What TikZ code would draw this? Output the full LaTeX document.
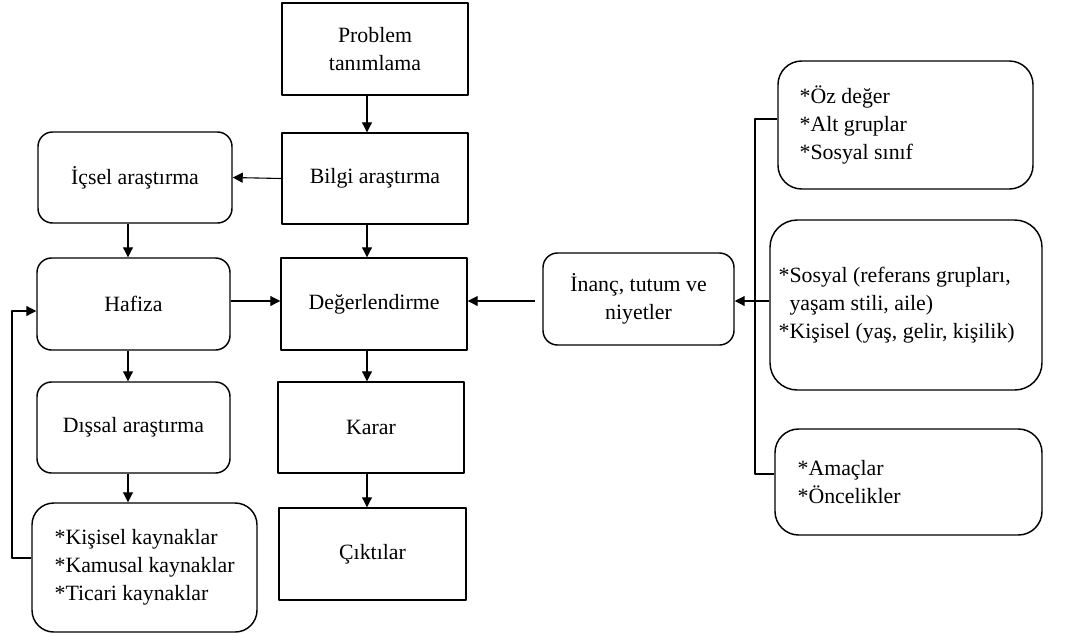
\documentclass[tikz,border=0pt]{standalone}
\usepackage{fontspec}
\setmainfont{Liberation Serif}
\usetikzlibrary{arrows.meta,positioning}
\tikzset{
  box/.style={draw, line width=0.8pt, align=center, inner sep=2pt},
  rbox/.style={box, rounded corners=8pt},
  bigbox/.style={box, rounded corners=13pt},
  lst/.style={align=left, inner sep=0pt},
  conn/.style={line width=0.6pt},
}
\begin{document}
\begin{tikzpicture}[x=0.55pt, y=-0.55pt, font=\fontsize{12}{15.5}\selectfont, line join=round, >={Triangle[length=5.5pt,width=5.5pt]}]
 \useasboundingbox (0,0) rectangle (1086,635);
 % middle column
 \node[box, minimum width=186*0.55pt, minimum height=92*0.55pt] (prob) at (375,49) {Problem\\tanımlama};
 \node[box, minimum width=186*0.55pt, minimum height=91*0.55pt] (bil) at (375,178.5) {Bilgi araştırma};
 \node[box, minimum width=186*0.55pt, minimum height=92*0.55pt] (deg) at (374,304) {Değerlendirme};
 \node[box, minimum width=186*0.55pt, minimum height=91*0.55pt] (kar) at (371,427.5) {Karar};
 \node[box, minimum width=187*0.55pt, minimum height=92*0.55pt] (cik) at (372.5,554) {Çıktılar};
 % left column
 \node[rbox, minimum width=194*0.55pt, minimum height=91*0.55pt] (ics) at (135,177.5) {İçsel araştırma};
 \node[rbox, minimum width=193*0.55pt, minimum height=92*0.55pt] (haf) at (133.5,304) {Hafiza};
 \node[rbox, minimum width=193*0.55pt, minimum height=91*0.55pt] (dis) at (133.5,427.5) {Dışsal araştırma};
 \node[rbox, rounded corners=12pt, minimum width=225*0.55pt, minimum height=129*0.55pt] (kay) at (144.5,567.5) {};
 \node[lst, right=12.65pt of kay.west] (kayT) {*Kişisel kaynaklar\\*Kamusal kaynaklar\\*Ticari kaynaklar};
 % right side
 \node[rbox, minimum width=191*0.55pt, minimum height=92*0.55pt] (inc) at (638.5,299) {İnanç, tutum ve\\niyetler};
 \node[bigbox, minimum width=255*0.55pt, minimum height=128*0.55pt] (oz) at (905.5,125) {};
 \node[lst, right=12.1pt of oz.west] (ozT) {*Öz değer\\*Alt gruplar\\*Sosyal sınıf};
 \node[bigbox, rounded corners=15pt, minimum width=272*0.55pt, minimum height=170*0.55pt] (soc) at (906,305) {};
 \node[lst, right=4.95pt of soc.west] (socT) {*Sosyal (referans grupları,\\\phantom{*}yaşam stili, aile)\\*Kişisel (yaş, gelir, kişilik)};
 \node[bigbox, minimum width=267*0.55pt, minimum height=106*0.55pt] (ama) at (908.5,482) {};
 \node[lst, right=12.65pt of ama.west] (amaT) {*Amaçlar\\*Öncelikler};
 % helper points
 \coordinate (colL) at (128,0);
 \coordinate (colM) at (367,0);
 \coordinate (rowH) at (0,301);
 \coordinate (fbA) at (12,558);
 \coordinate (fbB) at (12,311);
 \coordinate (brT) at (755,119);
 \coordinate (brB) at (755,474);
 % arrows
 \draw[conn,->] (prob.south -| colM) -- (bil.north -| colM);
 \draw[conn,->] (bil.south -| colM) -- (deg.north -| colM);
 \draw[conn,->] (deg.south -| colM) -- (kar.north -| colM);
 \draw[conn,->] (kar.south -| colM) -- (cik.north -| colM);
 \draw[conn,->] (bil.west) -- (ics.east);
 \draw[conn,->] (ics.south -| colL) -- (haf.north -| colL);
 \draw[conn,->] (haf.south -| colL) -- (dis.north -| colL);
 \draw[conn,->] (dis.south -| colL) -- (kay.north -| colL);
 \draw[conn,->] (haf.east |- rowH) -- (deg.west |- rowH);
 \draw[conn,->,shorten <=4pt] (inc.west |- rowH) -- (deg.east |- rowH);
 \draw[conn,->] (soc.west |- rowH) -- (inc.east |- rowH);
 \draw[conn,->] (kay.west |- fbA) -- (fbA) -- (fbB) -- (haf.west |- fbB);
 \draw[conn] (oz.west |- brT) -- (brT) -- (brB) -- (ama.west |- brB);
\end{tikzpicture}
\end{document}
